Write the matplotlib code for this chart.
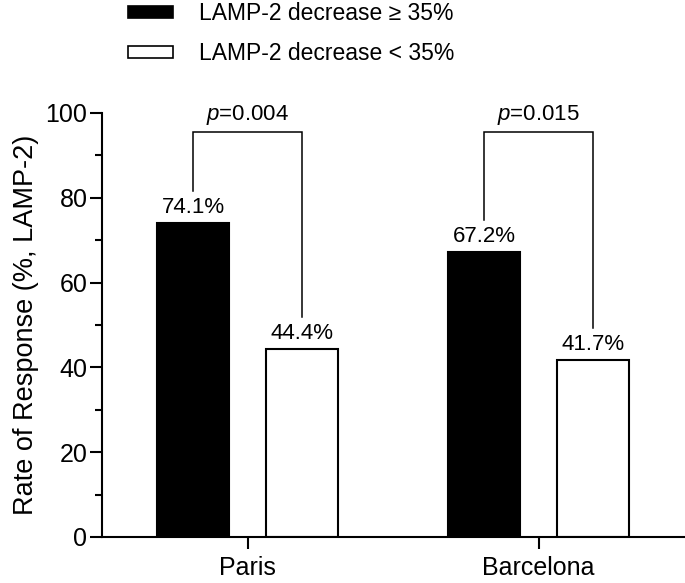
import numpy as np
import matplotlib
matplotlib.use("Agg")
import matplotlib.pyplot as plt
from matplotlib.patches import Patch

# fonts: Arial-like look
plt.rcParams['font.family'] = ['Liberation Sans', 'DejaVu Sans']
plt.rcParams['mathtext.fontset'] = 'custom'
plt.rcParams['mathtext.rm'] = 'Liberation Sans'
plt.rcParams['mathtext.it'] = 'Liberation Sans:italic'

# data
cities = ["Paris", "Barcelona"]
high_decrease = [74.1, 67.2]   # LAMP-2 decrease >= 35%
low_decrease = [44.4, 41.7]    # LAMP-2 decrease < 35%
p_values = ["0.004", "0.015"]
series_labels = ["LAMP-2 decrease \u2265 35%", "LAMP-2 decrease < 35%"]

fig = plt.figure(figsize=(6.85, 5.83), dpi=100)
ax = fig.add_axes([102/685, 1 - 537/583, 582/685, (537 - 113)/583])

x = np.arange(len(cities))
width = 0.247
off = 0.187

ax.bar(x - off, high_decrease, width, color="black", edgecolor="black", linewidth=1.5)
ax.bar(x + off, low_decrease, width, color="white", edgecolor="black", linewidth=1.5)

# value labels above the bars
for i in range(len(cities)):
    ax.text(x[i] - off, high_decrease[i] + 1.2, f"{high_decrease[i]:.1f}%",
            ha="center", va="bottom", fontsize=16)
    ax.text(x[i] + off, low_decrease[i] + 1.2, f"{low_decrease[i]:.1f}%",
            ha="center", va="bottom", fontsize=16)

# significance brackets
bracket_top = 95.5
leg_gap = 7.6
for i in range(len(cities)):
    xl, xr = x[i] - off, x[i] + off
    ax.plot([xl, xl, xr, xr],
            [high_decrease[i] + leg_gap, bracket_top, bracket_top, low_decrease[i] + leg_gap],
            color="black", linewidth=1.1, solid_joinstyle="miter")
    ax.text(x[i], bracket_top + 1.3, r"$\it{p}$=" + p_values[i],
            ha="center", va="bottom", fontsize=16)

# axes styling
ax.set_xlim(-0.5, 1.5)
ax.set_ylim(0, 100)
ax.set_yticks(np.arange(0, 101, 20))
ax.set_yticks(np.arange(10, 100, 20), minor=True)
ax.set_xticks(x)
ax.set_xticklabels(cities)
ax.spines["top"].set_visible(False)
ax.spines["right"].set_visible(False)
ax.spines["left"].set_linewidth(1.5)
ax.spines["bottom"].set_linewidth(1.5)
ax.tick_params(axis="both", which="major", direction="out", length=8.5, width=1.5, labelsize=18)
ax.tick_params(axis="y", which="major", pad=2)
ax.tick_params(axis="x", which="major", pad=5)
ax.tick_params(axis="y", which="minor", direction="out", length=5, width=1.5)
ax.set_ylabel("Rate of Response (%, LAMP-2)", fontsize=19.5, labelpad=5)

# legend at the top
handles = [Patch(facecolor="black", edgecolor="black", linewidth=1.2),
           Patch(facecolor="white", edgecolor="black", linewidth=1.2)]
fig.legend(handles, series_labels, loc="upper left", bbox_to_anchor=(128/685, 1 - 2/583),
           frameon=False, fontsize=16.5, handlelength=1.95, handleheight=0.42,
           handletextpad=1.15, labelspacing=0.75, borderpad=0.0, borderaxespad=0.0)

fig.savefig("out.png", dpi=100)
